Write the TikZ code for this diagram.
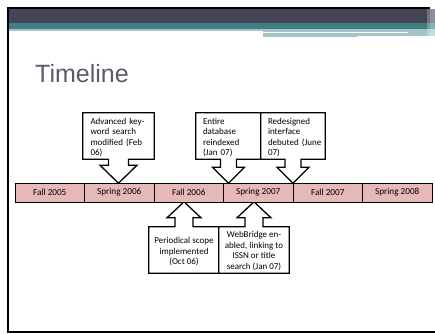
\documentclass[tikz,border=0pt]{standalone}
\usepackage{fontspec}
\setmainfont{Carlito}
\newfontfamily\titlefont{Liberation Sans}
\usetikzlibrary{calc}
\definecolor{hdrdark}{HTML}{434556}
\definecolor{hdrteal}{HTML}{3F7F81}
\definecolor{hdrlight}{HTML}{A2C4C5}
\definecolor{barpink}{HTML}{E6B9B8}
\definecolor{titlegray}{HTML}{595C69}
\newcommand\calloutdown[4]{%
  \draw[callout] (#1.south west) -- (#1.north west) -- (#1.north east) -- (#1.south east)
    -- ($(#1.south)+(#2,0)$) -- ($(#1.south)+(#2,#4)$) -- ($(#1.south)+(#3,#4)$)
    -- ($(#1.south)+(0,24)$)
    -- ($(#1.south)+(-#3,#4)$) -- ($(#1.south)+(-#2,#4)$) -- ($(#1.south)+(-#2,0)$) -- cycle;}
\newcommand\calloutup[4]{%
  \draw[callout] (#1.north west) -- (#1.south west) -- (#1.south east) -- (#1.north east)
    -- ($(#1.north)+(#2,0)$) -- ($(#1.north)+(#2,-#4)$) -- ($(#1.north)+(#3,-#4)$)
    -- ($(#1.north)+(0,-25)$)
    -- ($(#1.north)+(-#3,-#4)$) -- ($(#1.north)+(-#2,-#4)$) -- ($(#1.north)+(-#2,0)$) -- cycle;}
\begin{document}
\begin{tikzpicture}[x=1pt,y=-1pt,
  cell/.style={draw=black, fill=barpink, line width=1pt, minimum width=69.5pt, minimum height=19pt, inner sep=0pt, font=\fontsize{9.2}{10}\selectfont},
  cbox/.style={inner sep=0pt, minimum height=46pt},
  callout/.style={draw=black, fill=white, line width=1.3pt, line join=miter},
  ctext/.style={inner sep=0pt, font=\fontsize{9}{10.45}\selectfont, align=left, text width=80pt, anchor=north west},
  ctextc/.style={inner sep=0pt, font=\fontsize{9}{10.45}\selectfont, align=center}]
\useasboundingbox (0,0) rectangle (435,333);
\fill[white] (0,0) rectangle (435,333);
% header bands
\fill[hdrdark] (9,9) rectangle (435,23);
\fill[hdrteal] (9,23) rectangle (435,28.5);
\fill[hdrlight] (9,28.5) rectangle (435,30.5);
\fill[hdrlight] (263,28.5) rectangle (435,37);
\fill[white] (263,32) rectangle (408,33.3);
\fill[white] (357,35.7) rectangle (435,37);
\fill[white, opacity=0.25] (427,9) rectangle (435,37);
\fill[white, opacity=0.2] (430,9) rectangle (435,37);
% frame
\fill[black] (7,7) rectangle (430,9);
\fill[black] (7,7) rectangle (9,333);
\fill[black] (7,330.5) rectangle (435,332.5);
% title
\node[anchor=base west, inner sep=0pt, font=\titlefont\fontsize{25}{30}\selectfont, text=titlegray] (title) at (35,82) {Timeline};
% callout boxes
\node[cbox, minimum width=71pt] (b1) at (118.5,136) {};
\node[cbox, minimum width=65pt] (b2) at (228.5,136) {};
\node[cbox, minimum width=64pt] (b3) at (293,136) {};
\node[cbox, minimum width=70pt] (b4) at (184,250) {};
\node[cbox, minimum width=70pt] (b5) at (254,250) {};
\calloutdown{b1}{10}{18.5}{6}
\calloutdown{b2}{8}{16}{8}
\calloutdown{b3}{8}{16}{8}
\calloutup{b4}{9}{17}{9}
\calloutup{b5}{9}{17}{9}
\node[ctext] (t1) at ($(b1.north west)+(7.5,5)$) {Advanced key-\\word search\\modified (Feb\\06)};
\node[ctext] (t2) at ($(b2.north west)+(7,5)$) {Entire\\database\\reindexed\\(Jan 07)};
\node[ctext] (t3) at ($(b3.north west)+(7,5)$) {Redesigned\\interface\\debuted (June\\07)};
\node[ctextc] (t4) at ($(b4.center)+(0,1.5)$) {Periodical scope\\implemented\\(Oct 06)};
\node[ctextc] (t5) at ($(b5.center)+(0,1)$) {WebBridge en-\\abled, linking to\\ISSN or title\\search (Jan 07)};
% timeline bar
\foreach \i/\t in {1/Fall 2005, 2/Spring 2006, 3/Fall 2006, 4/Spring 2007, 5/Fall 2007, 6/Spring 2008}
  \node[cell] (c\i) at ({15+69.5*(\i-0.5)},192.5) {\t};
\end{tikzpicture}
\end{document}
